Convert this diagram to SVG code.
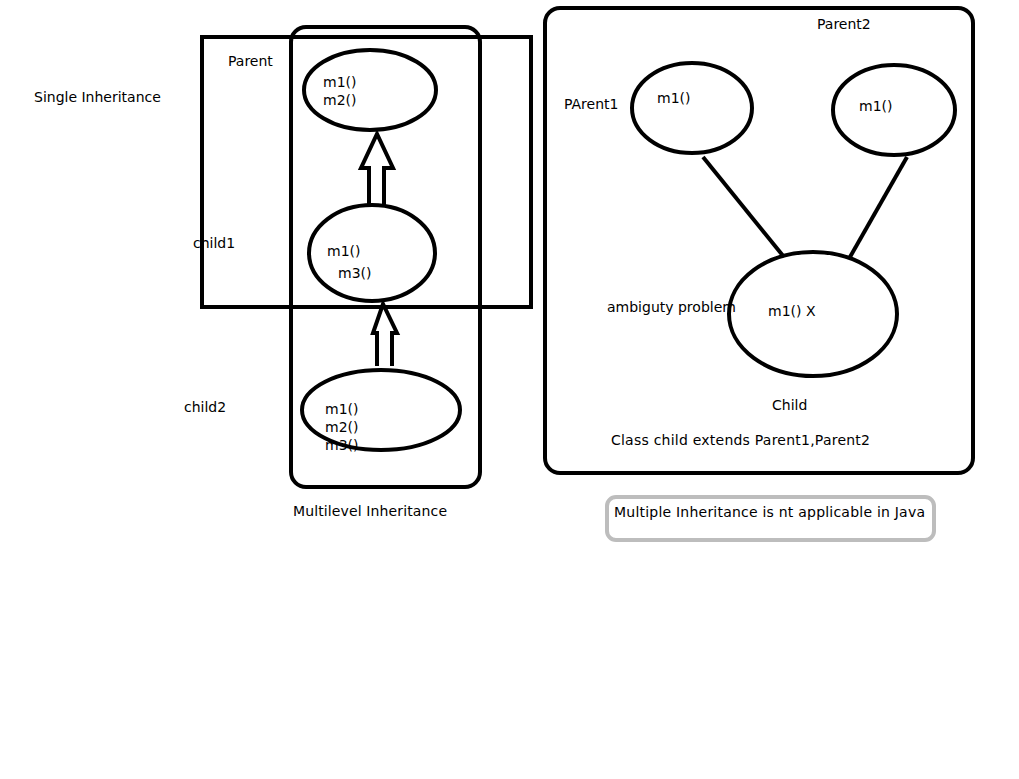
<svg xmlns="http://www.w3.org/2000/svg" width="1019" height="779" viewBox="0 0 1019 779">
  <style>
    text { font-family: "DejaVu Sans", "Liberation Sans", sans-serif; font-size: 14px; fill: #000; }
    .frame { fill: none; stroke: #000; stroke-width: 4; }
    .cls { fill: none; stroke: #000; stroke-width: 4; }
    .link { stroke: #000; stroke-width: 4; fill: none; }
    .block { fill: #fff; stroke: #000; stroke-width: 4; stroke-linejoin: miter; }
    .note { fill: none; stroke: #bdbdbd; stroke-width: 4; }
  </style>
  <rect width="1019" height="779" fill="#fff"/>

  <!-- section frames and captions -->
  <g id="single-frame">
    <rect class="frame" x="202" y="37" width="329" height="270"/>
    <text x="34" y="102">Single Inheritance</text>
  </g>
  <g id="multilevel-frame">
    <rect class="frame" x="291" y="27" width="189" height="460" rx="15"/>
    <text x="293" y="516" textLength="154" lengthAdjust="spacing">Multilevel Inheritance</text>
  </g>
  <g id="multiple-frame">
    <rect class="frame" x="545" y="8" width="428" height="465" rx="15"/>
    <text x="611" y="445" textLength="259" lengthAdjust="spacing">Class child extends Parent1,Parent2</text>
  </g>

  <!-- connectors -->
  <g id="connectors">
    <path class="block" d="M369,205 L369,168 L361,168 L377,134 L393,168 L384,168 L384,205"/>
    <path class="block" d="M377,366 L377,333 L373,333 L383,304 L397,333 L392,333 L392,366"/>
    <line class="link" x1="703" y1="157" x2="784" y2="257"/>
    <line class="link" x1="907" y1="157" x2="850" y2="257"/>
  </g>

  <!-- single / multilevel classes -->
  <g id="parent">
    <text x="228" y="66">Parent</text>
    <text x="323" y="87">m1()</text>
    <text x="323" y="105">m2()</text>
    <ellipse class="cls" cx="370" cy="90" rx="66" ry="40"/>
  </g>
  <g id="child1">
    <text x="193" y="248">child1</text>
    <text x="327" y="256">m1()</text>
    <text x="338" y="278">m3()</text>
    <ellipse class="cls" cx="372" cy="253" rx="63" ry="48"/>
  </g>
  <g id="child2">
    <text x="184" y="412">child2</text>
    <text x="325" y="414">m1()</text>
    <text x="325" y="432">m2()</text>
    <text x="325" y="450">m3()</text>
    <ellipse class="cls" cx="381" cy="410" rx="79" ry="40"/>
  </g>

  <!-- multiple inheritance classes -->
  <g id="parent1">
    <text x="564" y="109">PArent1</text>
    <text x="657" y="103">m1()</text>
    <ellipse class="cls" cx="692" cy="108" rx="60" ry="45"/>
  </g>
  <g id="parent2">
    <text x="817" y="29">Parent2</text>
    <text x="859" y="111">m1()</text>
    <ellipse class="cls" cx="894" cy="110" rx="61" ry="45"/>
  </g>
  <g id="child">
    <text x="607" y="312">ambiguty problem</text>
    <text x="768" y="316">m1() X</text>
    <text x="772" y="410">Child</text>
    <ellipse class="cls" cx="813" cy="314" rx="84" ry="62"/>
  </g>

  <!-- closing note -->
  <g id="note">
    <rect class="note" x="607" y="497" width="327" height="43" rx="9"/>
    <text x="614" y="517" textLength="311" lengthAdjust="spacing">Multiple Inheritance is nt applicable in Java</text>
  </g>
</svg>
